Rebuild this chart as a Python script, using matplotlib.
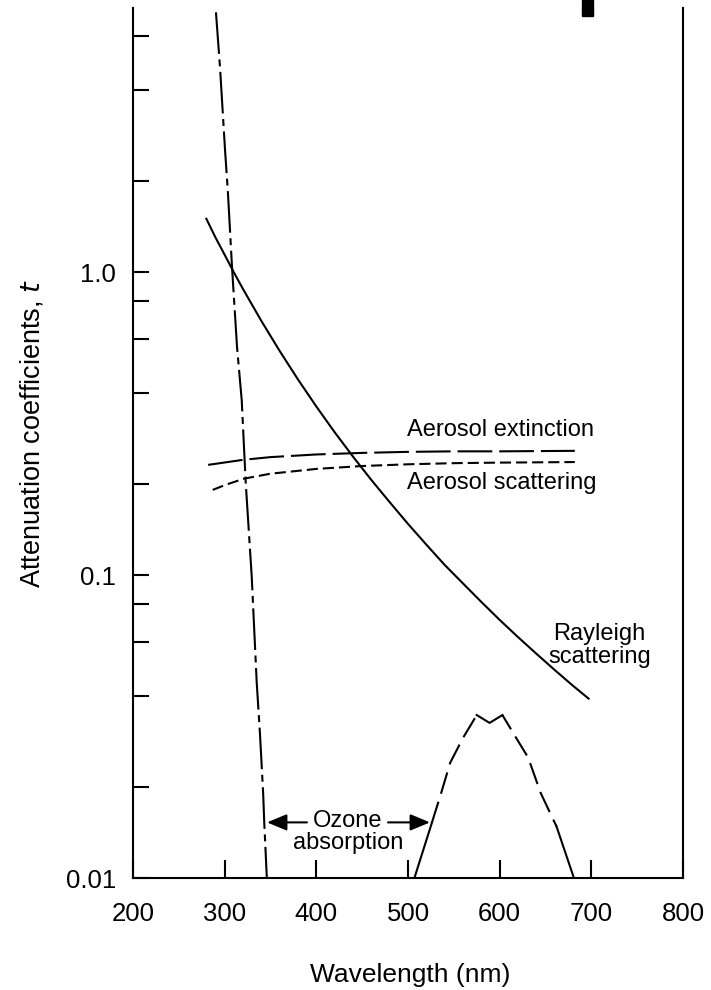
import matplotlib
matplotlib.use('Agg')
import matplotlib.pyplot as plt
from matplotlib.patches import Rectangle

plt.rcParams['font.family'] = ['Liberation Sans', 'DejaVu Sans']
plt.rcParams['lines.scale_dashes'] = False

# Absorción de ozono (UV, lado izquierdo)
ozono_nm = [290.5, 294.9, 300.4, 303.6, 308.0, 313.5, 318.6, 323.0, 329.5, 335.0, 338.5, 342.0, 343.2, 346.0]
ozono_val = [7.2, 4.75, 2.53, 1.82, 1.04, 0.565, 0.378, 0.201, 0.099, 0.044, 0.030, 0.019, 0.0152, 0.01]

# Banda de Chappuis (ozono, visible)
chap_nm = [507, 526, 536, 546, 560, 575, 589, 603, 618, 631, 645, 662, 681]
chap_val = [0.01, 0.0152, 0.019, 0.024, 0.029, 0.0345, 0.0325, 0.0345, 0.029, 0.025, 0.019, 0.0148, 0.01]

# Dispersión de Rayleigh
ray_nm = [280, 290, 300, 310, 320, 340, 360, 380, 400, 420, 440, 460, 480, 500,
          520, 540, 560, 580, 600, 620, 640, 660, 680, 697]
ray_val = [1.5, 1.30, 1.14, 0.998, 0.879, 0.69, 0.549, 0.442, 0.36, 0.296, 0.246, 0.206,
           0.174, 0.1475, 0.126, 0.108, 0.0938, 0.0815, 0.0711, 0.0624, 0.055, 0.0486,
           0.0431, 0.0391]

# Extinción y dispersión por aerosoles
ext_nm = [282, 320, 350, 400, 450, 500, 550, 600, 682]
ext_val = [0.231, 0.24, 0.245, 0.25, 0.253, 0.255, 0.256, 0.256, 0.257]
sca_nm = [287, 300, 321, 350, 400, 450, 500, 550, 600, 682]
sca_val = [0.191, 0.198, 0.208, 0.216, 0.224, 0.229, 0.232, 0.234, 0.235, 0.236]

xticks = [200, 300, 400, 500, 600, 700, 800]
ymajor = [0.01, 0.1, 1.0]
ylabels = ['0.01', '0.1', '1.0']
yminor = [0.02, 0.04, 0.06, 0.08, 0.2, 0.4, 0.6, 0.8, 2, 4, 6]

fig = plt.figure(figsize=(7.11, 9.9), dpi=100)
ax = fig.add_axes([133 / 711, 1 - 878 / 990, 550 / 711, 870 / 990])

lw = 1.5
ax.plot(ozono_nm, ozono_val, color='black', lw=lw, linestyle=(0, (30, 4, 5, 4)))

# la banda de Chappuis: tramos sólidos abajo y en el pico, discontinuos en los flancos
ax.plot(chap_nm[0:2], chap_val[0:2], color='black', lw=lw)
ax.plot(chap_nm[1:6], chap_val[1:6], color='black', lw=lw, linestyle=(0, (16, 6)))
ax.plot(chap_nm[5:8], chap_val[5:8], color='black', lw=lw)
ax.plot(chap_nm[7:12], chap_val[7:12], color='black', lw=lw, linestyle=(4, (16, 6)))
ax.plot(chap_nm[11:], chap_val[11:], color='black', lw=lw)

ax.plot(ray_nm, ray_val, color='black', lw=lw)
ax.plot(ext_nm, ext_val, color='black', lw=lw, linestyle=(0, (25, 5)))
ax.plot(sca_nm, sca_val, color='black', lw=lw, linestyle=(0, (8, 3.6)))

ax.set_yscale('log')
ax.set_xlim(200, 800)
ax.set_ylim(0.01, 7.44)

ax.set_xticks(xticks)
ax.set_xticklabels([str(t) for t in xticks])
ax.set_yticks(ymajor)
ax.set_yticklabels(ylabels)
ax.set_yticks(yminor, minor=True)
ax.yaxis.set_minor_formatter(plt.NullFormatter())
ax.tick_params(axis='x', which='major', direction='in', length=13, width=1.5,
               labelsize=18.5, pad=17)
ax.tick_params(axis='y', which='both', direction='in', length=11.5, width=1.5,
               labelsize=18.5, pad=12)
ax.tick_params(axis='x', which='minor', bottom=False)

ax.spines['top'].set_visible(False)
for s in ['left', 'right', 'bottom']:
    ax.spines[s].set_linewidth(1.5)

fig.text(410 / 711, 1 - 975 / 990, 'Wavelength (nm)', fontsize=19, ha='center', va='center')
fig.text(32 / 711, 1 - 433 / 990, 'Attenuation coefficients, $\\it{t}$', fontsize=19.5,
         ha='center', va='center', rotation=90)

ax.text(499, 0.301, 'Aerosol extinction', fontsize=17, ha='left', va='center')
ax.text(499, 0.201, 'Aerosol scattering', fontsize=17, ha='left', va='center')
ax.text(709, 0.0587, 'Rayleigh\nscattering', fontsize=17, ha='center', va='center',
        linespacing=1.05)
ax.text(434.5, 0.01423, 'Ozone\nabsorption', fontsize=17, ha='center', va='center',
        linespacing=1.0)

flecha = dict(arrowstyle='-|>,head_length=0.6,head_width=0.25', color='black', lw=1.5,
              mutation_scale=20, shrinkA=0, shrinkB=0)
ax.annotate('', xy=(346.2, 0.01526), xytext=(389.8, 0.01526), arrowprops=flecha)
ax.annotate('', xy=(524.0, 0.01526), xytext=(478.2, 0.01526), arrowprops=flecha)

# marca negra del escaneo arriba a la derecha
fig.patches.append(Rectangle((582 / 711, 1 - 16 / 990), 11 / 711, 16 / 990,
                             transform=fig.transFigure, color='black'))

fig.savefig('out.png', dpi=100)
